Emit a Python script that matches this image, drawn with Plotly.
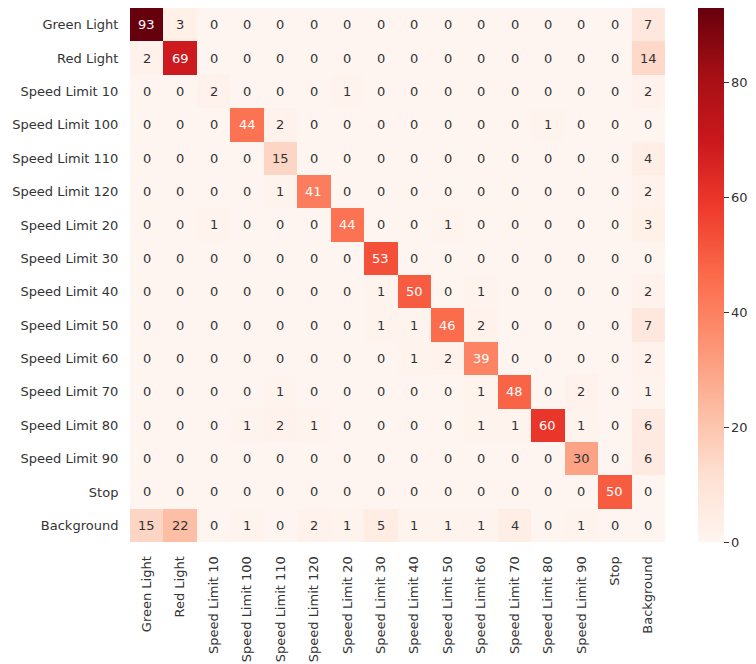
import plotly.graph_objects as go
import numpy as np

labels = ["Green Light", "Red Light", "Speed Limit 10", "Speed Limit 100",
          "Speed Limit 110", "Speed Limit 120", "Speed Limit 20", "Speed Limit 30",
          "Speed Limit 40", "Speed Limit 50", "Speed Limit 60", "Speed Limit 70",
          "Speed Limit 80", "Speed Limit 90", "Stop", "Background"]

row_green = [93, 3, 0, 0, 0, 0, 0, 0, 0, 0, 0, 0, 0, 0, 0, 7]
row_red = [2, 69, 0, 0, 0, 0, 0, 0, 0, 0, 0, 0, 0, 0, 0, 14]
row_sl10 = [0, 0, 2, 0, 0, 0, 1, 0, 0, 0, 0, 0, 0, 0, 0, 2]
row_sl100 = [0, 0, 0, 44, 2, 0, 0, 0, 0, 0, 0, 0, 1, 0, 0, 0]
row_sl110 = [0, 0, 0, 0, 15, 0, 0, 0, 0, 0, 0, 0, 0, 0, 0, 4]
row_sl120 = [0, 0, 0, 0, 1, 41, 0, 0, 0, 0, 0, 0, 0, 0, 0, 2]
row_sl20 = [0, 0, 1, 0, 0, 0, 44, 0, 0, 1, 0, 0, 0, 0, 0, 3]
row_sl30 = [0, 0, 0, 0, 0, 0, 0, 53, 0, 0, 0, 0, 0, 0, 0, 0]
row_sl40 = [0, 0, 0, 0, 0, 0, 0, 1, 50, 0, 1, 0, 0, 0, 0, 2]
row_sl50 = [0, 0, 0, 0, 0, 0, 0, 1, 1, 46, 2, 0, 0, 0, 0, 7]
row_sl60 = [0, 0, 0, 0, 0, 0, 0, 0, 1, 2, 39, 0, 0, 0, 0, 2]
row_sl70 = [0, 0, 0, 0, 1, 0, 0, 0, 0, 0, 1, 48, 0, 2, 0, 1]
row_sl80 = [0, 0, 0, 1, 2, 1, 0, 0, 0, 0, 1, 1, 60, 1, 0, 6]
row_sl90 = [0, 0, 0, 0, 0, 0, 0, 0, 0, 0, 0, 0, 0, 30, 0, 6]
row_stop = [0, 0, 0, 0, 0, 0, 0, 0, 0, 0, 0, 0, 0, 0, 50, 0]
row_background = [15, 22, 0, 1, 0, 2, 1, 5, 1, 1, 1, 4, 0, 1, 0, 0]

matrix = [row_green, row_red, row_sl10, row_sl100, row_sl110, row_sl120, row_sl20,
          row_sl30, row_sl40, row_sl50, row_sl60, row_sl70, row_sl80, row_sl90,
          row_stop, row_background]

reds = ["#fff5f0", "#fee0d2", "#fcbba1", "#fc9272", "#fb6a4a",
        "#ef3b2c", "#cb181d", "#a50f15", "#67000d"]
colorscale = [[i / (len(reds) - 1), c] for i, c in enumerate(reds)]

z = np.array(matrix)
zmax = z.max()


def hex_rgb(h):
    return np.array([int(h[i:i + 2], 16) for i in (1, 3, 5)]) / 255.0


def cell_color(v):
    t = v / zmax * (len(reds) - 1)
    i = min(int(t), len(reds) - 2)
    f = t - i
    return hex_rgb(reds[i]) * (1 - f) + hex_rgb(reds[i + 1]) * f


def luminance(rgb):
    c = np.where(rgb <= 0.03928, rgb / 12.92, ((rgb + 0.055) / 1.055) ** 2.4)
    return 0.2126 * c[0] + 0.7152 * c[1] + 0.0722 * c[2]


fig = go.Figure(go.Heatmap(
    z=z, x=labels, y=labels, colorscale=colorscale, zmin=0, zmax=zmax,
    xgap=0, ygap=0, hoverinfo="skip",
    colorbar=dict(
        x=1.061, xanchor="left", y=0.5, yanchor="middle", len=1.0, lenmode="fraction",
        xpad=0, ypad=0, thickness=26, outlinewidth=0, tickvals=[0, 20, 40, 60, 80],
        ticks="outside", ticklen=5, tickwidth=1, tickcolor="#333333",
        tickfont=dict(family="DejaVu Sans", size=13, color="#333333"),
    ),
))

annotations = []
for r, row in enumerate(matrix):
    for c, v in enumerate(row):
        color = "#ffffff" if luminance(cell_color(v)) <= 0.408 else "#333333"
        annotations.append(dict(
            x=labels[c], y=labels[r], text=str(v), showarrow=False,
            font=dict(family="DejaVu Sans", size=13, color=color),
        ))

fig.update_layout(
    width=756, height=664,
    margin=dict(l=130, r=88, t=8, b=122),
    paper_bgcolor="white", plot_bgcolor="white",
    annotations=annotations,
    font=dict(family="DejaVu Sans", size=13, color="#333333"),
)
fig.update_xaxes(tickangle=-90, showgrid=False, zeroline=False, automargin=False,
                 ticks="outside", ticklen=8, tickcolor="rgba(0,0,0,0)",
                 tickfont=dict(size=13, color="#333333"))
fig.update_yaxes(autorange="reversed", showgrid=False, zeroline=False, automargin=False,
                 ticks="outside", ticklen=8, tickcolor="rgba(0,0,0,0)",
                 tickfont=dict(size=13, color="#333333"))

fig.write_html("out.html")
